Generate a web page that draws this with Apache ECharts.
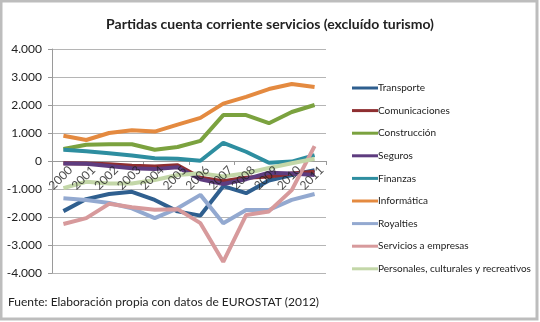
<!DOCTYPE html>
<html><head><meta charset="utf-8">
<script src="https://cdn.jsdelivr.net/npm/echarts@6/dist/echarts.min.js"></script>
<style>html,body{margin:0;padding:0;background:#fff}#c{width:540px;height:322px}</style>
</head><body><div id="c"></div>
<script>
const years = ['2000','2001','2002','2003','2004','2005','2006','2007','2008','2009','2010','2011'];
const yTicks = [-4000,-3000,-2000,-1000,0,1000,2000,3000,4000];
const seriesNames = ['Transporte','Comunicaciones','Construcción','Seguros','Finanzas','Informática','Royalties','Servicios a empresas','Personales, culturales y recreativos'];
const transporte     = [-1790,-1360,-1180,-1100,-1390,-1800,-1950,-900,-1150,-700,-500,-330];
const comunicaciones = [-80,-90,-120,-170,-200,-150,-600,-720,-600,-550,-450,-380];
const construccion   = [430,580,600,600,400,500,720,1640,1640,1350,1750,2000];
const seguros        = [-85,-100,-180,-260,-290,-220,-650,-820,-650,-420,-450,-500];
const finanzas       = [400,350,280,200,100,80,10,650,330,-60,-20,210];
const informatica    = [900,750,1000,1100,1050,1300,1540,2050,2290,2570,2750,2640];
const royalties      = [-1330,-1390,-1500,-1690,-2040,-1690,-1210,-2220,-1750,-1750,-1390,-1180];
const servicios      = [-2250,-2040,-1530,-1650,-1740,-1720,-2220,-3600,-1930,-1800,-1040,530];
const personales     = [-970,-740,-800,-800,-680,-500,-440,-550,-440,-250,-80,80];
const seriesData = [transporte,comunicaciones,construccion,seguros,finanzas,informatica,royalties,servicios,personales];
const colors = ['#2F5F8F','#8E2E30','#7BA23F','#5E3C7F','#2E8EA0','#E48A40','#93A9D0','#D79A9C','#C3D7A8'];

const chart = echarts.init(document.getElementById('c'), null, {renderer:'canvas'});
const fmt = v => { const s = Math.abs(v) >= 1000 ? (Math.abs(v)/1000).toFixed(0) + '.000' : String(Math.abs(v)); return (v<0?'-':'') + s; };
const lineSeries = seriesNames.map((n,i)=>({name:n, type:'line', data:seriesData[i], symbol:'none', z:2,
    lineStyle:{width:4, color:colors[i]}, itemStyle:{color:colors[i]}}));
const yearLabels = {name:'_years', type:'scatter', silent:true, z:20, symbol:'circle', symbolSize:1,
  itemStyle:{color:'rgba(0,0,0,0)'},
  data: years.map(y=>[y,0]),
  label:{show:true, position:'inside', formatter:p=>p.value[0], rotate:45, align:'right', verticalAlign:'middle',
    offset:[0,10], fontFamily:'Lato', fontSize:12, color:'#222'}};
chart.setOption({
  animation:false,
  color: colors,
  textStyle:{fontFamily:'Lato'},
  title:{text:'Partidas cuenta corriente servicios (excluído turismo)', left:'center', top:12,
    textStyle:{fontFamily:'Lato', fontSize:14, fontWeight:'bold', color:'#222'}},
  graphic:[
    {type:'rect', shape:{x:1,y:1,width:536,height:318}, style:{fill:'none', stroke:'#bdbdbd', lineWidth:3}},
    {type:'text', left:8, top:296, style:{text:'Fuente: Elaboración propia con datos de EUROSTAT (2012)', fontFamily:'Lato', fontSize:12, fill:'#222'}}
  ],
  legend:{orient:'vertical', left:347, top:77, icon:'rect', itemWidth:26, itemHeight:3, itemGap:10.6,
    textStyle:{fontFamily:'Lato', fontSize:10, color:'#222', lineHeight:12, padding:[0,0,0,-5]},
    data: seriesNames},
  grid:{left:52, right:214, top:49, bottom:49, containLabel:false},
  xAxis:{type:'category', data:years, boundaryGap:true,
      axisLine:{onZero:true, lineStyle:{color:'#9a9a9a', width:1}},
      axisTick:{show:true, length:4, inside:false, lineStyle:{color:'#9a9a9a'}},
      axisLabel:{show:false}},
  yAxis:{type:'value', min:yTicks[0], max:yTicks[yTicks.length-1], interval:1000,
    axisLine:{show:true, lineStyle:{color:'#9a9a9a'}},
    axisTick:{show:true, length:4, lineStyle:{color:'#9a9a9a'}},
    splitLine:{lineStyle:{color:'#b5b5b5'}},
    axisLabel:{formatter:fmt, fontSize:12, color:'#222', margin:10, fontFamily:'Lato'}},
  series: lineSeries.concat([yearLabels])
});
</script></body></html>
